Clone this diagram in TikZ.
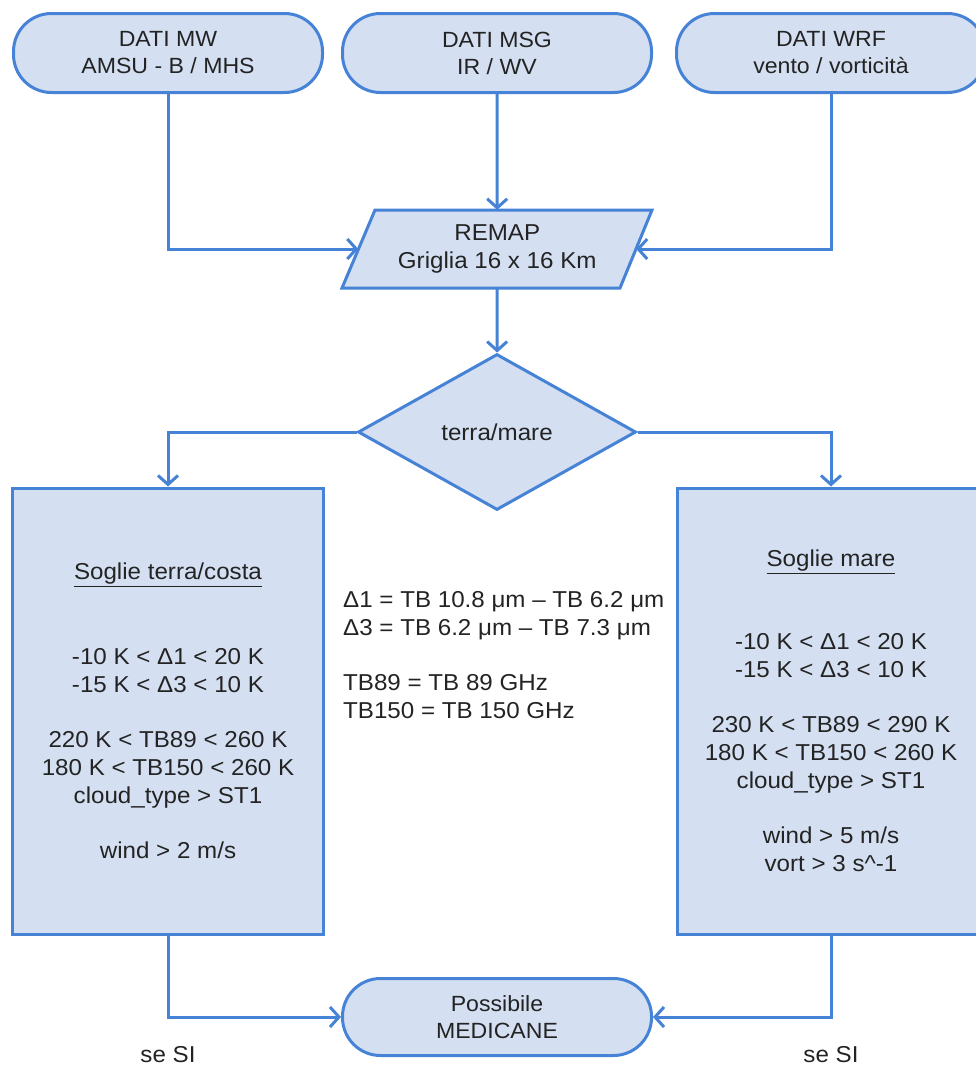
\documentclass[tikz,border=0pt]{standalone}
\usepackage{fontspec}
\setmainfont{Liberation Sans}[FakeStretch=1.05]
\usepackage{tikz}
\usetikzlibrary{shapes.geometric,arrows.meta}
\definecolor{boxfill}{RGB}{212,224,242}
\definecolor{boxline}{RGB}{70,130,214}
\definecolor{txt}{RGB}{35,35,35}
\tikzset{
	shape base/.style={draw=boxline,fill=boxfill,line width=3pt,text=txt,align=center,inner sep=0pt},
	term/.style={shape base,rounded corners=38pt,minimum width=309pt,minimum height=79pt,font=\fontsize{22}{27}\selectfont},
	arr/.style={draw=boxline,line width=3pt,-{Straight Barb[length=9pt,width=20pt]}}
}

\begin{document}
\begin{tikzpicture}[x=1pt,y=-1pt,font=\fontsize{23}{27.7}\selectfont]
		\useasboundingbox (0,0) rectangle (976,1066);
	 	\node[term] (mw) at (168,53) {DATI MW\\AMSU - B / MHS};
	 	\node[term] (msg) at (497,53) {DATI MSG\\IR / WV};
	 	\node[term] (wrf) at (831,53) {DATI WRF\\vento / vorticità};
	 	% parallelogram drawn by hand, text node on top
	 	\draw[shape base] (342,288) -- (375,210) -- (652,210) -- (620,288) -- cycle;
	 	\node[text=txt,align=center,inner sep=0pt,minimum width=277.5pt,minimum height=78pt] (remap) at (497.25,249) {REMAP\\Griglia 16 x 16 Km};
	 	\node[shape base,diamond,minimum width=278pt,minimum height=156pt] (land) at (497,432) {terra/mare};
	 	\node[shape base,minimum width=311pt,minimum height=446pt] (coast) at (168,711) {\underline{Soglie terra/costa}\\[57pt]-10 K < Δ1 < 20 K\\-15 K < Δ3 < 10 K\\[28pt]220 K < TB89 < 260 K\\180 K < TB150 < 260 K\\cloud\_type > ST1\\[28pt]wind > 2 m/s};
	 	\node[shape base,minimum width=308pt,minimum height=446pt] (sea) at (831,711) {\underline{Soglie mare}\\[55pt]-10 K < Δ1 < 20 K\\-15 K < Δ3 < 10 K\\[28pt]230 K < TB89 < 290 K\\180 K < TB150 < 260 K\\cloud\_type > ST1\\[28pt]wind > 5 m/s\\vort > 3 s\^{}-1};
	 	\node[text=txt,align=left,anchor=west,inner sep=0pt] (defs) at (343,655) {Δ1 = TB 10.8 μm – TB 6.2 μm\\Δ3 = TB 6.2 μm – TB 7.3 μm\\[28pt]TB89 = TB 89 GHz\\TB150 = TB 150 GHz};
	 	\node[term,minimum height=77pt] (medicane) at (497,1017) {Possibile\\MEDICANE};
	 	\node[text=txt] (yes1) at (168,1055) {se SI};
	 	\node[text=txt] (yes2) at (831,1055) {se SI};
	 	\draw[arr] (mw.south) |- (remap.west);
	 	\draw[arr] (msg) -- (remap);
	 	\draw[arr] (wrf.south) |- (remap.east);
	 	\draw[arr] (remap) -- (land);
	 	\draw[arr] (land.west) -| (coast.north);
	 	\draw[arr] (land.east) -| (sea.north);
	 	\draw[arr] (coast.south) |- (medicane.west);
	 	\draw[arr] (sea.south) |- (medicane.east);
\end{tikzpicture}
\end{document}
